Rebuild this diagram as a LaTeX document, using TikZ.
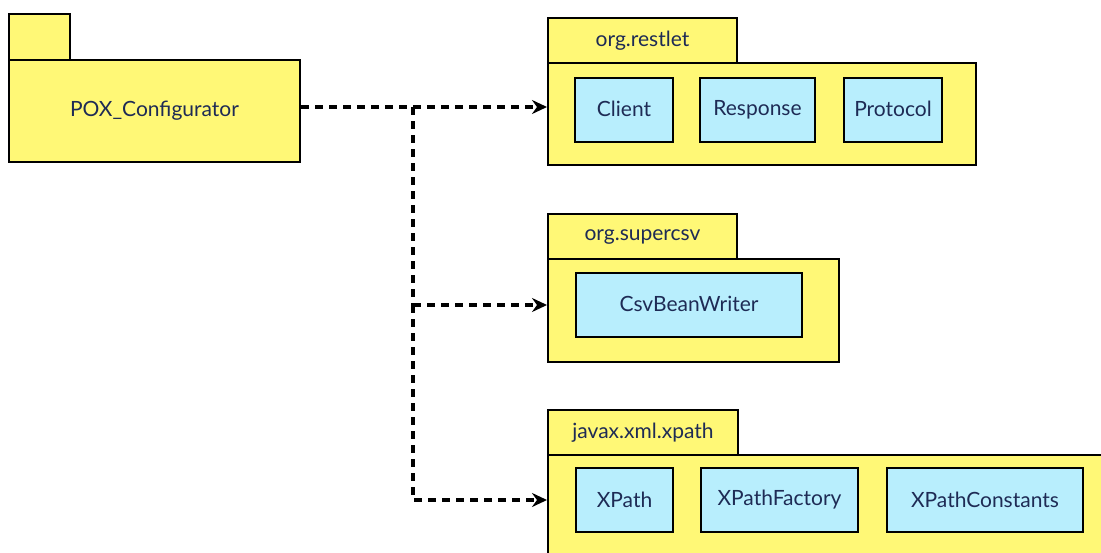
\documentclass[tikz,border=0pt]{standalone}
\usepackage{fontspec}
\setmainfont{Lato}
\usetikzlibrary{arrows.meta}
\definecolor{pkgyellow}{HTML}{FFF876}
\definecolor{clsblue}{HTML}{B8EEFD}
\definecolor{txtnavy}{HTML}{1E2B55}
\tikzset{
  box/.style={draw=black, line width=2pt, inner sep=0pt, text=txtnavy, font=\fontsize{21}{24}\selectfont},
  pkg/.style={box, fill=pkgyellow},
  cls/.style={box, fill=clsblue},
  dashline/.style={line width=3.5pt, dash pattern=on 8pt off 6pt},
  dep/.style={dashline, -{Stealth[length=15pt,width=14pt,inset=5pt]}}
}
\begin{document}
\begin{tikzpicture}[x=1pt,y=-1pt]
\clip (0,0) rectangle (1101,552);
\fill[white] (0,0) rectangle (1101,552);
% POX_Configurator
\node[pkg, minimum width=61, minimum height=46] (poxtab) at (39.5,37) {};
\node[pkg, minimum width=291, minimum height=102] (pox) at (154.5,111) {\raisebox{3pt}{POX\_Configurator}};
% org.restlet
\node[pkg, minimum width=189, minimum height=45] (restlettab) at (642.5,40.5) {org.restlet};
\node[pkg, minimum width=428, minimum height=102] (restlet) at (762,114) {};
\node[cls, minimum width=98, minimum height=64] (client) at (624,110) {\raisebox{2pt}{Client}};
\node[cls, minimum width=115, minimum height=64] (response) at (757.5,110) {\raisebox{3pt}{Response}};
\node[cls, minimum width=98, minimum height=64] (protocol) at (893,110) {\raisebox{2pt}{Protocol}};
% org.supercsv
\node[pkg, minimum width=189, minimum height=45] (supercsvtab) at (642.5,236.5) {org.supercsv};
\node[pkg, minimum width=291, minimum height=103] (supercsv) at (693.5,310.5) {};
\node[cls, minimum width=226, minimum height=64] (csv) at (689,305) {\raisebox{2pt}{CsvBeanWriter}};
% javax.xml.xpath
\node[pkg, minimum width=190, minimum height=45] (xpathtab) at (643,432.5) {javax.xml.xpath};
\node[pkg, minimum width=562, minimum height=115] (xpathpkg) at (829,512.5) {};
\node[cls, minimum width=97, minimum height=64] (xpath) at (624.5,500) {XPath};
\node[cls, minimum width=157, minimum height=64] (xpathf) at (779.5,500) {\raisebox{3pt}{XPathFactory}};
\node[cls, minimum width=196, minimum height=64] (xpathc) at (985,500) {XPathConstants};
% connectors
\coordinate (j1) at (413,107);
\coordinate (j2) at (413,305);
\coordinate (j3) at (413,500);
\draw[dep] (pox.east |- j1) -- (restlet.west |- j1);
\draw[dashline] (j1) -- (j2);
\draw[dep] (j2) -- (supercsv.west |- j2);
\draw[dep] (j2) -- (j3) -- (xpathpkg.west |- j3);
\end{tikzpicture}
\end{document}
